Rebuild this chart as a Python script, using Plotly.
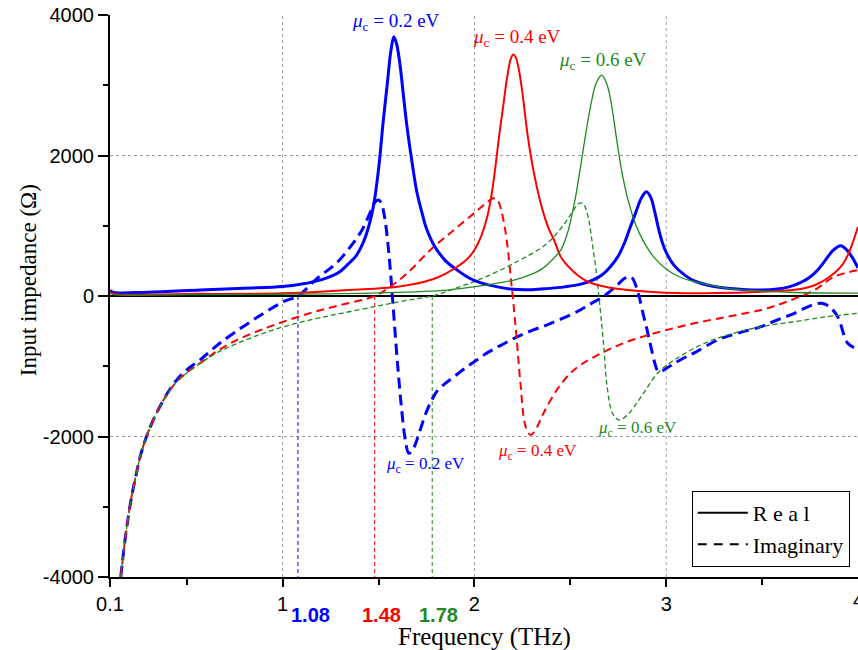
import plotly.graph_objects as go

BLUE = "#0000ff"
RED = "#ff0000"
GREEN = "#1f8a1f"

# ---------------- data ----------------
# Real part, mu_c = 0.2 eV
f_re_02 = [0.10, 0.12, 0.30, 0.57, 0.80, 1.00, 1.10, 1.20, 1.26, 1.30, 1.336, 1.38, 1.42, 1.45, 1.475,
           1.50, 1.525, 1.545, 1.565, 1.58, 1.595, 1.614, 1.63, 1.649, 1.675, 1.70, 1.73, 1.75, 1.79,
           1.85, 1.91, 1.97, 2.03, 2.12, 2.20, 2.30, 2.38, 2.47, 2.55, 2.62, 2.67, 2.71, 2.75, 2.78,
           2.81, 2.84, 2.87, 2.897, 2.92, 2.94, 2.96, 2.98, 3.00, 3.04, 3.10, 3.15, 3.25, 3.32, 3.42,
           3.49, 3.58, 3.64, 3.70, 3.75, 3.79, 3.83, 3.87, 3.91, 3.94, 3.97, 4.00]
re_02 = [80, 50, 55, 85, 110, 135, 170, 230, 290, 350, 440, 560, 760, 1000, 1300,
         1800, 2500, 3000, 3500, 3690, 3580, 3250, 2850, 2400, 1900, 1480, 1150, 960, 720,
         500, 370, 260, 190, 130, 95, 90, 105, 130, 165, 230, 310, 420, 570, 740,
         960, 1180, 1390, 1484, 1400, 1200, 960, 760, 620, 440, 290, 210, 135, 110, 90,
         85, 100, 130, 190, 270, 370, 510, 650, 716, 660, 550, 400]

# Real part, mu_c = 0.4 eV
f_re_04 = [0.10, 0.12, 0.50, 1.00, 1.34, 1.60, 1.77, 1.85, 1.91, 1.96, 2.00, 2.035, 2.067, 2.09, 2.11,
           2.13, 2.15, 2.17, 2.19, 2.203, 2.215, 2.23, 2.25, 2.276, 2.30, 2.328, 2.36, 2.39, 2.415,
           2.45, 2.49, 2.537, 2.58, 2.624, 2.70, 2.80, 2.95, 3.15, 3.35, 3.49, 3.60, 3.67, 3.72,
           3.77, 3.81, 3.85, 3.89, 3.92, 3.95, 3.975, 4.00]
re_04 = [60, 30, 30, 38, 85, 132, 227, 320, 417, 520, 654, 850, 1128, 1450, 1850,
         2300, 2700, 3100, 3380, 3438, 3400, 3250, 2900, 2314, 1900, 1520, 1180, 940, 800,
         560, 420, 300, 220, 170, 120, 85, 55, 40, 45, 60, 75, 90, 110,
         150, 200, 270, 360, 450, 600, 780, 986]

# Real part, mu_c = 0.6 eV
f_re_06 = [0.10, 0.12, 0.50, 1.00, 1.50, 1.86, 2.05, 2.206, 2.30, 2.36, 2.40, 2.45, 2.48, 2.50, 2.53,
           2.554, 2.58, 2.607, 2.635, 2.664, 2.69, 2.71, 2.73, 2.746, 2.77, 2.798, 2.84, 2.885, 2.94,
           3.007, 3.07, 3.146, 3.32, 3.50, 3.67, 4.00]
re_06 = [40, 20, 20, 25, 45, 85, 150, 227, 310, 400, 500, 654, 850, 1050, 1450,
         1850, 2300, 2720, 3030, 3144, 3020, 2800, 2450, 2150, 1750, 1400, 1020, 760, 540,
         370, 270, 204, 109, 70, 50, 40]

# Imaginary part, mu_c = 0.2 eV
f_im_02 = [0.156, 0.165, 0.178, 0.195, 0.213, 0.235, 0.257, 0.28, 0.30, 0.33, 0.361, 0.40, 0.448, 0.50,
           0.57, 0.65, 0.744, 0.87, 1.005, 1.08, 1.18, 1.28, 1.36, 1.414, 1.458, 1.48, 1.50, 1.515,
           1.53, 1.545, 1.56, 1.575, 1.59, 1.605, 1.62, 1.64, 1.658, 1.68, 1.70, 1.73, 1.754, 1.78,
           1.806, 1.85, 1.893, 1.95, 1.997, 2.06, 2.119, 2.18, 2.24, 2.31, 2.38, 2.45, 2.537, 2.60,
           2.66, 2.70, 2.75, 2.78, 2.807, 2.825, 2.845, 2.86, 2.875, 2.90, 2.92, 2.94, 2.955, 2.97,
           2.99, 3.025, 3.08, 3.146, 3.268, 3.373, 3.494, 3.58, 3.668, 3.75, 3.808, 3.85, 3.894,
           3.947, 4.00]
im_02 = [-4000, -3780, -3480, -3150, -2850, -2560, -2290, -2080, -1930, -1740, -1570, -1380, -1195, -1050,
         -910, -720, -530, -300, -80, 0, 252, 465, 725, 939, 1199, 1330, 1365, 1320,
         1150, 850, 420, -100, -650, -1150, -1600, -2050, -2238, -2180, -2050, -1800, -1620, -1470,
         -1350, -1240, -1150, -1030, -940, -820, -730, -640, -560, -480, -410, -330, -220, -120,
         -30, 50, 170, 245, 275, 250, 120, -20, -200, -480, -720, -950, -1060, -1080,
         -1050, -990, -900, -810, -626, -530, -437, -340, -246, -140, -104, -150, -294,
         -673, -760]

# Imaginary part, mu_c = 0.4 eV
f_im_04 = [0.156, 0.165, 0.178, 0.195, 0.213, 0.235, 0.257, 0.28, 0.30, 0.33, 0.361, 0.40, 0.448, 0.50,
           0.57, 0.65, 0.744, 0.87, 1.005, 1.16, 1.30, 1.48, 1.57, 1.649, 1.77, 1.893, 1.997, 2.06,
           2.10, 2.12, 2.14, 2.16, 2.175, 2.19, 2.205, 2.22, 2.24, 2.267, 2.293, 2.32, 2.36, 2.43,
           2.50, 2.554, 2.66, 2.798, 2.97, 3.146, 3.32, 3.494, 3.63, 3.773, 3.877, 4.00]
im_04 = [-4000, -3780, -3480, -3150, -2850, -2560, -2290, -2080, -1930, -1740, -1570, -1390, -1220, -1090,
         -955, -800, -650, -500, -365, -230, -130, 0, 150, 322, 654, 939, 1176, 1320,
         1390, 1370, 1220, 950, 650, 250, -150, -600, -1242, -1859, -1977, -1900, -1669, -1337,
         -1100, -980, -815, -650, -507, -389, -294, -199, -80, 85, 275, 370]

# Imaginary part, mu_c = 0.6 eV
f_im_06 = [0.156, 0.165, 0.178, 0.195, 0.213, 0.235, 0.257, 0.28, 0.30, 0.33, 0.361, 0.40, 0.448, 0.50,
           0.57, 0.65, 0.744, 0.87, 1.005, 1.16, 1.30, 1.50, 1.65, 1.78, 1.90, 2.03, 2.206, 2.38,
           2.45, 2.50, 2.545, 2.565, 2.58, 2.595, 2.607, 2.62, 2.633, 2.645, 2.66, 2.676, 2.69, 2.72,
           2.754, 2.798, 2.87, 2.955, 3.043, 3.18, 3.32, 3.494, 3.668, 3.84, 4.00]
im_06 = [-4000, -3780, -3480, -3150, -2850, -2560, -2290, -2080, -1930, -1740, -1570, -1390, -1220, -1095,
         -960, -820, -697, -560, -437, -330, -250, -140, -60, 0, 110, 240, 465, 750,
         960, 1150, 1318, 1320, 1250, 1100, 900, 650, 400, 100, -294, -768, -1242, -1669,
         -1764, -1693, -1432, -1100, -910, -697, -555, -437, -365, -294, -246]

# zero crossings of the imaginary part
cross_freqs = [1.08, 1.48, 1.78]
cross_labels = ["1.08", "1.48", "1.78"]
mu_labels = ["0.2", "0.4", "0.6"]

x_ticks = [0.1, 1, 2, 3]
x_ticktext = ["0.1", "1", "2", "3"]
x_minor = [0.5, 1.5, 2.5, 3.5]
y_ticks = [-4000, -2000, 0, 2000, 4000]
y_ticktext = ["-4000", "-2000", "0", "2000", "4000"]
y_minor = [-3000, -1000, 1000, 3000]

# ---------------- figure ----------------
fig = go.Figure()
SMOOTH = 1.0

colors = [BLUE, RED, GREEN]
widths = [3, 2, 1.3]
dashes = ["11px,6px", "8px,5px", "5px,3px"]
reals = [(f_re_02, re_02), (f_re_04, re_04), (f_re_06, re_06)]
imags = [(f_im_02, im_02), (f_im_04, im_04), (f_im_06, im_06)]

# zero-crossing markers
for fc, c in zip(cross_freqs, colors):
    fig.add_trace(go.Scatter(x=[fc, fc], y=[0, -4000], mode="lines", showlegend=False,
                             line=dict(color=c, width=1, dash="4px,3px"), hoverinfo="skip"))

for (fx, fy), c, w, d in zip(imags, colors, widths, dashes):
    fig.add_trace(go.Scatter(x=fx, y=fy, mode="lines", showlegend=False,
                             line=dict(color=c, width=w, dash=d, shape="spline", smoothing=SMOOTH)))
for (fx, fy), c, w in zip(reals, colors, widths):
    fig.add_trace(go.Scatter(x=fx, y=fy, mode="lines", showlegend=False,
                             line=dict(color=c, width=w, shape="spline", smoothing=SMOOTH)))

# legend entries
fig.add_trace(go.Scatter(x=[None], y=[None], mode="lines", name="R e a l",
                         line=dict(color="black", width=2)))
fig.add_trace(go.Scatter(x=[None], y=[None], mode="lines", name="Imaginary",
                         line=dict(color="black", width=2, dash="9px,7px")))

# grid (dotted)
shapes = []
for gx in [1, 2, 3]:
    shapes.append(dict(type="line", xref="x", yref="y", x0=gx, x1=gx, y0=-4000, y1=4000,
                       line=dict(color="#a0a0a0", width=1, dash="dot"), layer="below"))
for gy in [-2000, 2000]:
    shapes.append(dict(type="line", xref="x", yref="y", x0=0.1, x1=4, y0=gy, y1=gy,
                       line=dict(color="#a0a0a0", width=1, dash="dot"), layer="below"))

serif = "Liberation Serif, Times New Roman, serif"
sans = "Liberation Sans, Arial, sans-serif"

annotations = []
top_pos = [(1.593, 3900), (2.22, 3675), (2.669, 3348)]
bot_pos = [(1.745, -2407), (2.33, -2222), (2.852, -1895)]
for (x, y), c, m in zip(top_pos, colors, mu_labels):
    annotations.append(dict(x=x, y=y, xref="x", yref="y", showarrow=False,
                            text=f"<i>μ</i><sub>c</sub> = {m} eV",
                            font=dict(family=serif, size=19, color=c)))
for (x, y), c, m in zip(bot_pos, colors, mu_labels):
    annotations.append(dict(x=x, y=y, xref="x", yref="y", showarrow=False,
                            text=f"<i>μ</i><sub>c</sub> = {m} eV",
                            font=dict(family=serif, size=17, color=c)))
for fc, lab, c, sh in zip(cross_freqs, cross_labels, colors, [13, 7, 6]):
    annotations.append(dict(x=fc, y=-0.0676, xref="x", yref="paper", showarrow=False,
                            text=f"<b>{lab}</b>", xshift=sh, yanchor="middle",
                            font=dict(family=sans, size=20, color=c)))
# right-edge tick label (cut by the page edge as in the reference)
annotations.append(dict(x=4, y=-0.0415, xref="x", yref="paper", showarrow=False,
                        text="4", yanchor="middle", xanchor="center",
                        font=dict(family=sans, size=20, color="black")))
# axis titles
annotations.append(dict(x=0.5, y=-0.107, xref="paper", yref="paper", showarrow=False,
                        text="Frequency (THz)", yanchor="middle",
                        font=dict(family=serif, size=25, color="black")))
annotations.append(dict(x=-0.1096, y=0.528, xref="paper", yref="paper", showarrow=False,
                        text="Input impedance (Ω)", textangle=-90, xanchor="center",
                        font=dict(family=serif, size=23, color="black")))

fig.update_layout(
    width=858, height=650, template="none",
    margin=dict(l=110, r=0, t=15, b=73),
    paper_bgcolor="white", plot_bgcolor="white",
    shapes=shapes, annotations=annotations,
    showlegend=True,
    legend=dict(x=0.989, y=0.018, xanchor="right", yanchor="bottom",
                bordercolor="black", borderwidth=1, bgcolor="white",
                font=dict(family=serif, size=22, color="black"),
                itemwidth=50, tracegroupgap=0),
    xaxis=dict(range=[0.1, 4], tickmode="array", tickvals=x_ticks, ticktext=x_ticktext,
               showgrid=False, zeroline=False, showline=True, linecolor="black", linewidth=2,
               ticks="outside", ticklen=8, tickwidth=2, tickcolor="black",
               tickfont=dict(family=sans, size=20, color="black"), automargin=False,
               minor=dict(tickmode="array", tickvals=x_minor, ticks="outside", ticklen=6,
                          tickwidth=2, tickcolor="black", showgrid=False)),
    yaxis=dict(range=[-4000, 4000], tickmode="array", tickvals=y_ticks, ticktext=y_ticktext,
               showgrid=False, zeroline=True, zerolinecolor="black", zerolinewidth=1.5,
               showline=True, linecolor="black", linewidth=2,
               ticks="outside", ticklen=10, tickwidth=2, tickcolor="black",
               tickfont=dict(family=sans, size=20, color="black"), automargin=False,
               minor=dict(tickmode="array", tickvals=y_minor, ticks="outside", ticklen=5,
                          tickwidth=2, tickcolor="black", showgrid=False)),
)

fig.write_html("out.html")
